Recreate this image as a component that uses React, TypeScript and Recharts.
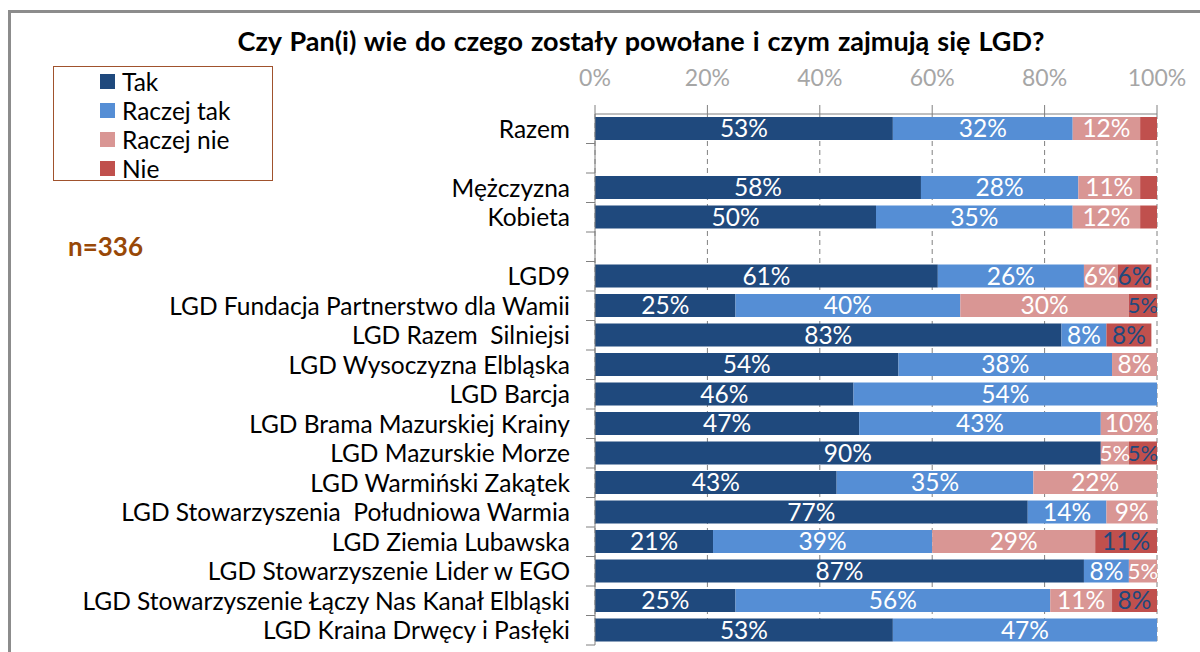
import React from "react";
import {
  BarChart,
  Bar,
  XAxis,
  YAxis,
  CartesianGrid,
  LabelList,
  Legend,
} from "recharts";

// categories, top to bottom ("" = spacer row)
const categories = [
  "Razem",
  "",
  "Mężczyzna",
  "Kobieta",
  "",
  "LGD9",
  "LGD Fundacja Partnerstwo dla Wamii",
  "LGD Razem  Silniejsi",
  "LGD Wysoczyzna Elbląska",
  "LGD Barcja",
  "LGD Brama Mazurskiej Krainy",
  "LGD Mazurskie Morze",
  "LGD Warmiński Zakątek",
  "LGD Stowarzyszenia  Południowa Warmia",
  "LGD Ziemia Lubawska",
  "LGD Stowarzyszenie Lider w EGO",
  "LGD Stowarzyszenie Łączy Nas Kanał Elbląski",
  "LGD Kraina Drwęcy i Pasłęki",
];

const tak = [53, 0, 58, 50, 0, 61, 25, 83, 54, 46, 47, 90, 43, 77, 21, 87, 25, 53];
const raczejTak = [32, 0, 28, 35, 0, 26, 40, 8, 38, 54, 43, 0, 35, 14, 39, 8, 56, 47];
const raczejNie = [12, 0, 11, 12, 0, 6, 30, 0, 8, 0, 10, 5, 22, 9, 29, 5, 11, 0];
const nie = [3, 0, 3, 3, 0, 6, 5, 8, 0, 0, 0, 5, 0, 0, 11, 0, 8, 0];

const xTicks = [0, 20, 40, 60, 80, 100];

const series = [
  { key: "tak", name: "Tak", color: "#1F497D", labelColor: "#FFFFFF" },
  { key: "raczejTak", name: "Raczej tak", color: "#558ED5", labelColor: "#FFFFFF" },
  { key: "raczejNie", name: "Raczej nie", color: "#D99694", labelColor: "#FFFFFF" },
  { key: "nie", name: "Nie", color: "#C0504D", labelColor: "#1F497D" },
];

const rows = categories.map((name, i) => ({
  id: `c${i}`,
  name,
  tak: tak[i],
  raczejTak: raczejTak[i],
  raczejNie: raczejNie[i],
  nie: nie[i],
}));

const FONT = "Lato, 'Open Sans', sans-serif";
const CHART_W = 1200;
const CHART_H = 652;
const X_HEIGHT = 30;
const MARGIN = { top: 114 - X_HEIGHT, right: 43, bottom: 7, left: 15 };
const Y_WIDTH = 580;
const BAND = (CHART_H - 114 - MARGIN.bottom) / rows.length;

const CategoryTick = (props: any) => {
  const { x, y, payload } = props;
  const row = rows.find((r) => r.id === payload.value);
  return (
    <g>
      <text
        x={x - 25}
        y={y}
        dy="0.36em"
        textAnchor="end"
        fontSize={24.5}
        fill="#000"
        fontFamily={FONT}
        style={{ whiteSpace: "pre" }}
      >
        {row ? row.name : ""}
      </text>
      <line x1={x - 9} x2={x} y1={y + BAND / 2} y2={y + BAND / 2} stroke="#808080" />
    </g>
  );
};

const makeLabel = (color: string) => (props: any) => {
  const { x, y, width, height, value } = props;
  if (!value || value < 5) return null;
  // narrow segments get a slightly smaller label so neighbours don't collide
  const size = width < 30 ? 22 : 24.5;
  return (
    <text
      x={x + width / 2}
      y={y + height / 2}
      dy="0.36em"
      textAnchor="middle"
      fontSize={size}
      fill={color}
      fontFamily={FONT}
    >
      {`${value}%`}
    </text>
  );
};

const LegendBox = () => (
  <div
    style={{
      width: 220,
      height: 115,
      border: "1.5px solid #A0522D",
      boxSizing: "border-box",
      fontFamily: FONT,
    }}
  >
    {series.map((s) => (
      <div key={s.key} style={{ display: "flex", alignItems: "center", height: 29, paddingLeft: 46 }}>
        <span style={{ width: 15, height: 15, background: s.color, marginRight: 7 }} />
        <span style={{ fontSize: 24.5, color: "#000", lineHeight: "29px" }}>{s.name}</span>
      </div>
    ))}
  </div>
);

export default function App() {
  return (
    <div
      style={{
        position: "absolute",
        left: 0,
        top: 0,
        width: CHART_W,
        height: CHART_H,
        background: "#fff",
        overflow: "hidden",
        fontFamily: FONT,
      }}
    >
      <div
        style={{
          position: "absolute",
          left: 8,
          top: 10,
          width: 1300,
          height: 800,
          border: "3px solid #8C8C8C",
        }}
      />
      <div
        style={{
          position: "absolute",
          left: 0,
          width: 1282,
          top: 24,
          textAlign: "center",
          fontSize: 27,
          lineHeight: "34px",
          fontWeight: 700,
          wordSpacing: 1.5,
          color: "#000",
        }}
      >
        Czy Pan(i) wie do czego zostały powołane i czym zajmują się LGD?
      </div>
      <div
        style={{
          position: "absolute",
          left: 68,
          top: 230,
          fontSize: 26,
          lineHeight: "32px",
          fontWeight: 700,
          color: "#984807",
        }}
      >
        n=336
      </div>
      <div style={{ position: "absolute", left: 0, top: 0 }}>
        <BarChart width={CHART_W} height={CHART_H} data={rows} layout="vertical" margin={MARGIN}>
          <CartesianGrid horizontal={false} stroke="#808080" strokeDasharray="5 4" />
          <XAxis
            type="number"
            orientation="top"
            height={X_HEIGHT}
            domain={[0, 100]}
            ticks={xTicks}
            tickFormatter={(v) => `${v}%`}
            axisLine={{ stroke: "#808080" }}
            tickLine={{ stroke: "#808080" }}
            tickSize={9}
            tickMargin={19}
            tick={{ fontSize: 23, fill: "#A6A6A6", fontFamily: FONT }}
            interval={0}
          />
          <YAxis
            type="category"
            dataKey="id"
            width={Y_WIDTH}
            tickSize={0}
            tickMargin={0}
            axisLine={{ stroke: "#808080" }}
            tickLine={false}
            tick={<CategoryTick />}
            interval={0}
          />
          <Legend
            layout="vertical"
            align="center"
            verticalAlign="middle"
            content={() => <LegendBox />}
            wrapperStyle={{ position: "absolute", left: 53, top: 66, width: 220 }}
          />
          {series.map((s) => (
            <Bar
              key={s.key}
              dataKey={s.key}
              name={s.name}
              stackId="a"
              fill={s.color}
              barSize={23}
              isAnimationActive={false}
            >
              <LabelList dataKey={s.key} content={makeLabel(s.labelColor)} />
            </Bar>
          ))}
        </BarChart>
      </div>
    </div>
  );
}
